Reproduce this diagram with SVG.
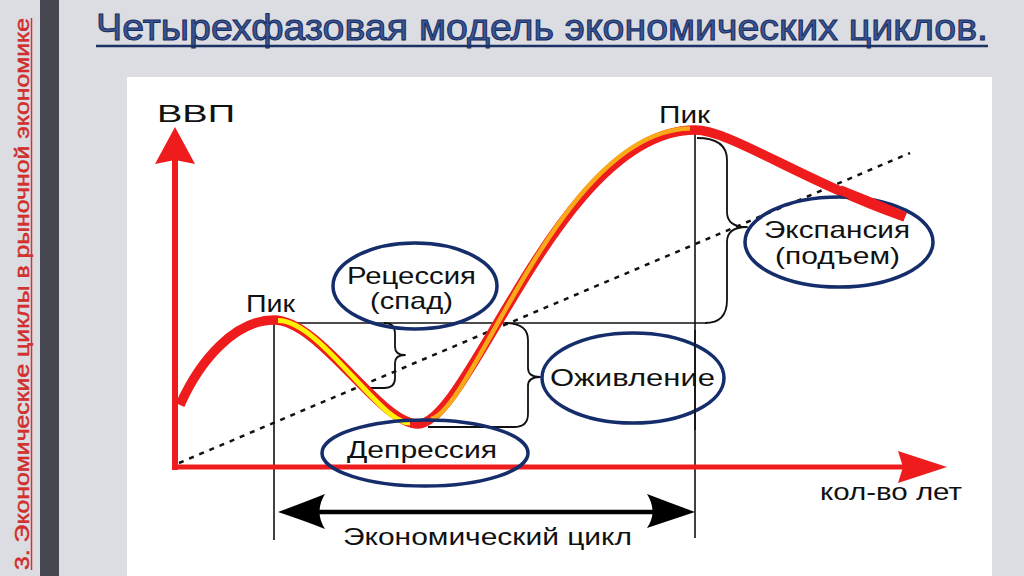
<svg xmlns="http://www.w3.org/2000/svg" width="1024" height="576" viewBox="0 0 1024 576">
  <style>
    .lbl { font-family: "Liberation Sans", Arial, sans-serif; font-size: 24px; fill: #111; }
    .oval { fill: none; stroke: #152d6b; stroke-width: 3.5; }
    .thin { fill: none; stroke: #111; stroke-width: 1.6; }
    .brace { fill: none; stroke: #111; stroke-width: 1.8; stroke-linejoin: round; }
  </style>
  <rect x="0" y="0" width="1024" height="576" fill="#dcdde2"/>
  <rect x="40" y="0" width="19" height="576" fill="#464751"/>
  <rect x="127" y="77" width="865" height="499" fill="#ffffff"/>

  <!-- side title -->
  <g id="side-title" transform="translate(29,570) rotate(-90)">
    <text x="0" y="0" font-family="'Liberation Sans', Arial, sans-serif" font-size="20" fill="#d9302c" stroke="#c42020" stroke-width="0.4" textLength="552" lengthAdjust="spacingAndGlyphs">3. Экономические циклы в рыночной экономике</text>
    <line x1="0" y1="2.5" x2="552" y2="2.5" stroke="#d9302c" stroke-width="1.5"/>
  </g>

  <!-- title -->
  <g id="title">
    <text x="96" y="40" font-family="'Liberation Sans', Arial, sans-serif" font-size="37" fill="#3a5594" stroke="#172c5e" stroke-width="1" textLength="892" lengthAdjust="spacingAndGlyphs">Четырехфазовая модель экономических циклов.</text>
    <line x1="96" y1="46" x2="988" y2="46" stroke="#1c3266" stroke-width="2.5"/>
  </g>

  <g id="connectors">
    <!-- dotted trend -->
    <line x1="179" y1="463" x2="910" y2="153" stroke="#111" stroke-width="2.5" stroke-dasharray="5 6"/>
    <!-- vertical guides -->
    <line class="thin" x1="274" y1="320" x2="274" y2="540"/>
    <line class="thin" x1="695" y1="130" x2="695" y2="538"/>
    <!-- horizontal line at first peak -->
    <line class="thin" x1="274" y1="323" x2="706" y2="323"/>
    <!-- braces -->
    <path class="brace" d="M384,323 Q395,323 395,333 L395,347 Q395,355 405,355 Q395,355 395,363 L395,378 Q395,388 384,388 L364,388"/>
    <path class="brace" d="M505,323 Q528,323 528,340 L528,368 Q528,377 540,377 Q528,377 528,386 L528,414 Q528,427 514,427 L428,427"/>
    <path class="brace" d="M697,138 Q727,138 727,160 L727,212 Q727,227 747,227 Q727,227 727,242 L727,300 Q727,323 705,323"/>

    <!-- axes -->
    <line x1="175" y1="470" x2="175" y2="160" stroke="#ee1c1c" stroke-width="6"/>
    <polygon points="175,127 195,164 175,160 155,164" fill="#ee1c1c"/>
    <line x1="172" y1="467" x2="905" y2="467" stroke="#ee1c1c" stroke-width="5"/>
    <polygon points="947,467 898,451 903,467 898,483" fill="#ee1c1c"/>

    <!-- economic cycle arrow -->
    <line x1="310" y1="512" x2="665" y2="512" stroke="#000" stroke-width="4.5"/>
    <path d="M278,512 Q305,502 325,494 Q314,512 325,529 Q305,521 278,512 Z" fill="#000"/>
    <path d="M695,512 Q668,502 647,494 Q658,512 647,528 Q668,521 695,512 Z" fill="#000"/>

    <!-- GDP curve -->
    <path d="M180,405 C200,360 235,320 274,320 C320,320 380,424 418,424 C470,424 560,130 695,130 C730,130 800,180 905,217" fill="none" stroke="#ee1c1c" stroke-width="9.5"/>
    <path d="M278,320.5 C320,320 380,424 410,423" fill="none" stroke="#fff200" stroke-width="5"/>
    <path d="M431,419 C475,408 560,130 690,128.5" fill="none" stroke="#f9aa18" stroke-width="4.5"/>
  </g>

  <!-- axis labels -->
  <g id="axis-y"><text class="lbl" x="157" y="122" font-size="29" textLength="78" lengthAdjust="spacingAndGlyphs">ВВП</text></g>
  <g id="axis-x"><text class="lbl" x="820" y="500" textLength="142" lengthAdjust="spacingAndGlyphs">кол-во лет</text></g>
  <g id="peak1"><text class="lbl" x="246" y="312" textLength="49" lengthAdjust="spacingAndGlyphs">Пик</text></g>
  <g id="peak2"><text class="lbl" x="659" y="123" textLength="51" lengthAdjust="spacingAndGlyphs">Пик</text></g>
  <g id="cycle"><text class="lbl" x="343" y="545" font-size="25" textLength="289" lengthAdjust="spacingAndGlyphs">Экономический цикл</text></g>

  <!-- phase nodes -->
  <g id="recession">
    <ellipse class="oval" cx="415" cy="286" rx="82" ry="43"/>
    <text class="lbl" x="347" y="284" textLength="129" lengthAdjust="spacingAndGlyphs">Рецессия</text>
    <text class="lbl" x="370" y="309" textLength="83" lengthAdjust="spacingAndGlyphs">(спад)</text>
  </g>
  <g id="depression">
    <ellipse class="oval" cx="425" cy="453" rx="103" ry="33"/>
    <text class="lbl" x="347" y="458" textLength="150" lengthAdjust="spacingAndGlyphs">Депрессия</text>
  </g>
  <g id="revival">
    <ellipse class="oval" cx="633" cy="378" rx="91" ry="45"/>
    <text class="lbl" x="550" y="386" textLength="165" lengthAdjust="spacingAndGlyphs">Оживление</text>
  </g>
  <g id="expansion">
    <ellipse class="oval" cx="839" cy="242" rx="94" ry="45"/>
    <text class="lbl" x="764" y="238" textLength="146" lengthAdjust="spacingAndGlyphs">Экспансия</text>
    <text class="lbl" x="775" y="264" textLength="125" lengthAdjust="spacingAndGlyphs">(подъем)</text>
  </g>
  <!-- vertical guide and curve end drawn over ovals as in reference -->
  <line class="thin" x1="695" y1="330" x2="695" y2="430"/>
  <path d="M840,190 C870,202 890,210 905,217" fill="none" stroke="#ee1c1c" stroke-width="9.5"/>
</svg>
